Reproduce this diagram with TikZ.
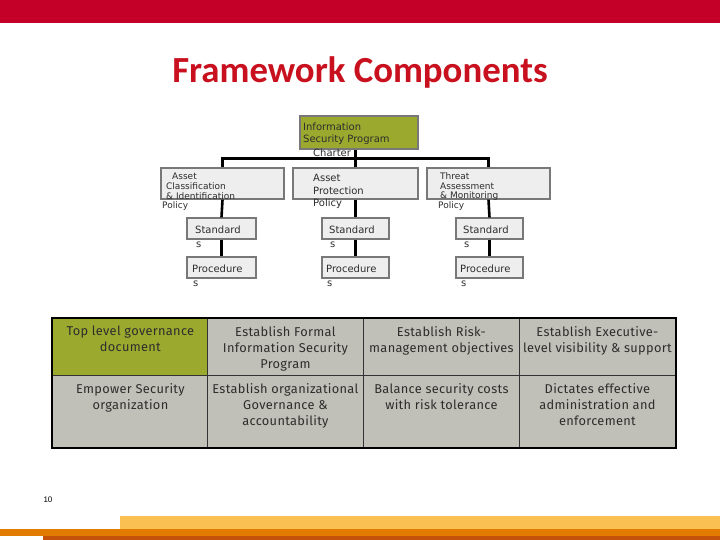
\documentclass[tikz,border=0pt]{standalone}
\usepackage{fontspec}
\setmainfont{DejaVu Sans}
\newfontfamily\titlefont{Carlito}
\newfontfamily\tabfont[LetterSpace=2.5]{Fira Sans}
\newfontfamily\numfont{Liberation Sans}
\definecolor{topred}{RGB}{196,0,40}
\definecolor{titlered}{RGB}{200,16,30}
\definecolor{olive}{RGB}{155,170,46}
\definecolor{boxgray}{RGB}{238,238,238}
\definecolor{boxline}{RGB}{120,120,120}
\definecolor{cellgray}{RGB}{192,192,184}
\definecolor{barY}{RGB}{250,192,82}
\definecolor{barO}{RGB}{226,124,0}
\definecolor{barD}{RGB}{196,82,10}
\definecolor{txt}{RGB}{45,45,45}
\begin{document}
\begin{tikzpicture}[x=1pt,y=-1pt,
  orgbox/.style={draw=boxline, line width=1.3pt, fill=boxgray, inner sep=0pt},
  conn/.style={draw=black, line width=2.6pt},
  small/.style={font=\fontsize{10}{12}\selectfont, text=txt, inner sep=0pt, anchor=west},
  tiny/.style={font=\fontsize{9}{10}\selectfont, text=txt, inner sep=0pt, anchor=west},
  cell/.style={draw=black!80, line width=0.8pt, fill=cellgray, inner sep=0pt, minimum width=156pt, anchor=north west},
  celltext/.style={font=\tabfont\fontsize{12.8}{16}\selectfont, text=txt, align=center, inner sep=0pt, anchor=north}]
\useasboundingbox (0,0) rectangle (720,540);
% header bar and title
\fill[topred] (0,0) rectangle (720,23);
\node[font=\titlefont\bfseries\fontsize{36.8}{42}\selectfont, text=titlered] (title) at (360,72) {Framework Components};
% org chart boxes
\node[orgbox, fill=olive, minimum width=118pt, minimum height=33pt] (top) at (359,132.5) {};
\node[orgbox, minimum width=123pt, minimum height=31pt] (m1) at (222.5,183.5) {};
\node[orgbox, minimum width=125pt, minimum height=31pt] (m2) at (355.5,183.5) {};
\node[orgbox, minimum width=123pt, minimum height=31pt] (m3) at (488.5,183.5) {};
\node[orgbox, minimum width=69pt, minimum height=21pt] (s1) at (221.5,228.5) {};
\node[orgbox, minimum width=67pt, minimum height=21pt] (s2) at (355.5,228.5) {};
\node[orgbox, minimum width=67pt, minimum height=21pt] (s3) at (489.5,228.5) {};
\node[orgbox, minimum width=69pt, minimum height=21pt] (p1) at (221.5,267.5) {};
\node[orgbox, minimum width=67pt, minimum height=21pt] (p2) at (355.5,267.5) {};
\node[orgbox, minimum width=67pt, minimum height=21pt] (p3) at (489.5,267.5) {};
% connectors
\draw[conn] (m2.north) -- (m2.north |- top.south);
\draw[conn] (m1.north) -- ++(0,-9) -| (m3.north);
\foreach \i in {1,2,3}{
  \draw[conn] (m\i.south) -- (s\i.north);
  \draw[conn] (s\i.south) -- (p\i.north);
}
% texts of the chart
\node[small] (t1) at (303,127) {Information};
\node[small] (t2) at (303,140) {Security Program};
\node[small] (t4) at (313,153) {Charter};
\node[tiny] (a1) at (172,176) {Asset};
\node[tiny] (a3) at (166,186) {Classification};
\node[tiny] (a2) at (166,196) {\& Identification};
\node[tiny] (a4) at (162,206) {Policy};
\node[small] (b1) at (313,178) {Asset};
\node[small] (b2) at (313,191) {Protection};
\node[small] (b3) at (313,204) {Policy};
\node[tiny] (c1) at (440,176) {Threat};
\node[tiny] (c3) at (440,186) {Assessment};
\node[tiny] (c2) at (440,196) {\& Monitoring};
\node[tiny] (c4) at (438,206) {Policy};
\foreach \x/\n in {195/1,329/2,463/3}{
  \node[small] (st\n) at (\x,230) {Standard};
  \node[small] (ss\n) at (\x+1,245) {s};
  \node[small] (pt\n) at (\x-3,269) {Procedure};
  \node[small] (ps\n) at (\x-2,284) {s};
}
% table
\node[cell, fill=olive, minimum height=57pt] (r1c1) at (52,318) {};
\node[cell, minimum height=57pt] (r1c2) at (207,318) {};
\node[cell, minimum height=57pt] (r1c3) at (363,318) {};
\node[cell, minimum height=57pt] (r1c4) at (519,318) {};
\node[cell, minimum height=72pt] (r2c1) at (52,375) {};
\node[cell, minimum height=72pt] (r2c2) at (207,375) {};
\node[cell, minimum height=72pt] (r2c3) at (363,375) {};
\node[cell, minimum height=72pt] (r2c4) at (519,375) {};
\draw[black, line width=2pt] (r1c1.north west) rectangle (r2c4.south east);
\node[celltext] (x11) at ([yshift=-8pt]r1c1.north) {Top level governance\\document};
\node[celltext] (x12) at ([yshift=-8pt]r1c2.north) {Establish Formal\\Information Security\\Program};
\node[celltext] (x13) at ([yshift=-8pt]r1c3.north) {Establish Risk-\\management objectives};
\node[celltext] (x14) at ([yshift=-8pt]r1c4.north) {Establish Executive-\\level visibility \& support};
\node[celltext] (x21) at ([yshift=-8pt]r2c1.north) {Empower Security\\organization};
\node[celltext] (x22) at ([yshift=-8pt]r2c2.north) {Establish organizational\\Governance \&\\accountability};
\node[celltext] (x23) at ([yshift=-8pt]r2c3.north) {Balance security costs\\with risk tolerance};
\node[celltext] (x24) at ([yshift=-8pt]r2c4.north) {Dictates effective\\administration and\\enforcement};
% page number and footer bars
\node[font=\numfont\fontsize{8}{9}\selectfont, inner sep=0pt] (pg) at (48,500) {10};
\fill[barY] (120,516) rectangle (720,530);
\fill[barO] (0,529) rectangle (720,536);
\fill[barD] (43,536) rectangle (720,540);
\end{tikzpicture}
\end{document}
